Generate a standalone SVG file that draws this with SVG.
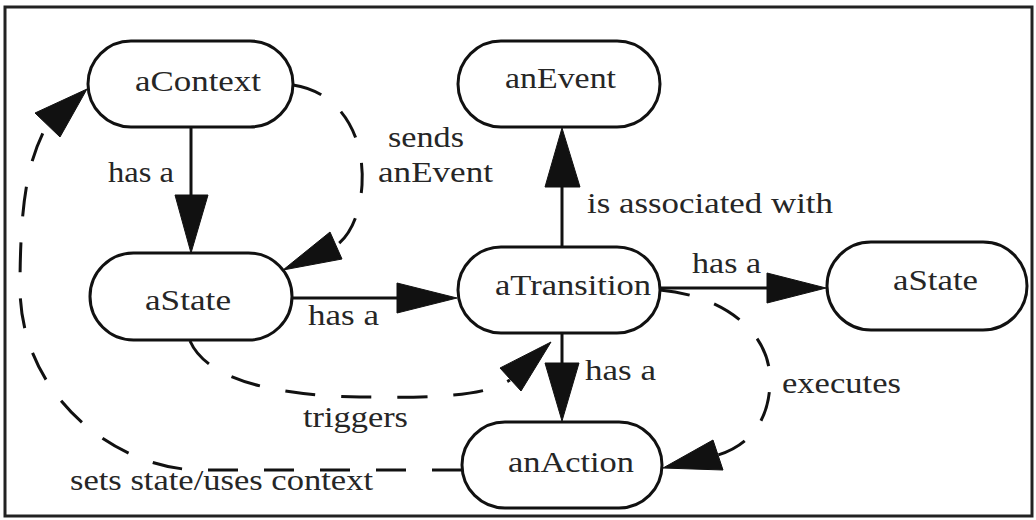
<svg xmlns="http://www.w3.org/2000/svg" width="1036" height="520" viewBox="0 0 1036 520">
<rect x="5" y="7" width="1027" height="509" fill="#fff" stroke="#222" stroke-width="3"/>
<g id="connectors" stroke="#111" stroke-width="3">
  <line fill="none" x1="191" y1="127" x2="191" y2="196"/>
  <polygon fill="#111" stroke-width="1" points="175,195 208,195 191,253"/>
  <line fill="none" x1="292" y1="298" x2="398" y2="298"/>
  <polygon fill="#111" stroke-width="1" points="397,283 397,313 457,298"/>
  <line fill="none" x1="562" y1="247" x2="562" y2="186"/>
  <polygon fill="#111" stroke-width="1" points="545,187 580,187 562,128"/>
  <line fill="none" x1="660" y1="288" x2="768" y2="288"/>
  <polygon fill="#111" stroke-width="1" points="767,273 767,303 826,288"/>
  <line fill="none" x1="562" y1="333" x2="562" y2="364"/>
  <polygon fill="#111" stroke-width="1" points="545,363 579,363 562,421"/>
  <path fill="none" stroke-dasharray="30 26" d="M293,85 C340,92 365,135 362,185 C360,215 350,235 337,245"/>
  <polygon fill="#111" stroke-width="1" points="330,232 342,259 283,270"/>
  <path fill="none" stroke-dasharray="30 26" d="M190,341 C205,375 260,395 360,397 C440,398 485,396 510,380"/>
  <polygon fill="#111" stroke-width="1" points="500,368 521,391 551,342"/>
  <path fill="none" stroke-dasharray="30 26" d="M660,290 C720,295 770,330 770,380 C770,420 750,445 718,455"/>
  <polygon fill="#111" stroke-width="1" points="713,440 723,470 663,468"/>
  <path fill="none" stroke-dasharray="30 26" d="M462,470 L200,470 C120,470 22,400 20,290 C20,200 28,160 47,125"/>
  <polygon fill="#111" stroke-width="1" points="35,113 60,137 87,89"/>
</g>
<g id="labels" font-family="Liberation Serif" font-size="29" fill="#262626">
  <text x="108" y="182" textLength="66" lengthAdjust="spacingAndGlyphs">has a</text>
  <text x="308" y="325" textLength="71" lengthAdjust="spacingAndGlyphs">has a</text>
  <text x="587" y="213" textLength="246" lengthAdjust="spacingAndGlyphs">is associated with</text>
  <text x="692" y="273" textLength="69" lengthAdjust="spacingAndGlyphs">has a</text>
  <text x="585" y="380" textLength="71" lengthAdjust="spacingAndGlyphs">has a</text>
  <text x="388" y="147" textLength="76" lengthAdjust="spacingAndGlyphs">sends</text>
  <text x="378" y="182" textLength="115" lengthAdjust="spacingAndGlyphs">anEvent</text>
  <text x="303" y="427" textLength="105" lengthAdjust="spacingAndGlyphs">triggers</text>
  <text x="782" y="393" textLength="119" lengthAdjust="spacingAndGlyphs">executes</text>
  <text x="70" y="490" textLength="303" lengthAdjust="spacingAndGlyphs">sets state/uses context</text>
</g>
<g id="aContext">
  <rect x="88" y="41" width="205" height="86" rx="43" fill="#fff" stroke="#111" stroke-width="3"/>
  <text font-family="Liberation Serif" font-size="29" fill="#262626" x="135" y="91" textLength="126" lengthAdjust="spacingAndGlyphs">aContext</text>
</g>
<g id="anEvent">
  <rect x="458" y="41" width="202" height="86" rx="43" fill="#fff" stroke="#111" stroke-width="3"/>
  <text font-family="Liberation Serif" font-size="29" fill="#262626" x="505" y="88" textLength="111" lengthAdjust="spacingAndGlyphs">anEvent</text>
</g>
<g id="aState1">
  <rect x="90" y="253" width="202" height="87" rx="43.5" fill="#fff" stroke="#111" stroke-width="3"/>
  <text font-family="Liberation Serif" font-size="29" fill="#262626" x="145" y="310" textLength="86" lengthAdjust="spacingAndGlyphs">aState</text>
</g>
<g id="aTransition">
  <rect x="458" y="247" width="202" height="86" rx="43" fill="#fff" stroke="#111" stroke-width="3"/>
  <text font-family="Liberation Serif" font-size="29" fill="#262626" x="495" y="295" textLength="156" lengthAdjust="spacingAndGlyphs">aTransition</text>
</g>
<g id="aState2">
  <rect x="827" y="242" width="200" height="88" rx="44" fill="#fff" stroke="#111" stroke-width="3"/>
  <text font-family="Liberation Serif" font-size="29" fill="#262626" x="893" y="290" textLength="85" lengthAdjust="spacingAndGlyphs">aState</text>
</g>
<g id="anAction">
  <rect x="462" y="422" width="200" height="86" rx="43" fill="#fff" stroke="#111" stroke-width="3"/>
  <text font-family="Liberation Serif" font-size="29" fill="#262626" x="508" y="472" textLength="126" lengthAdjust="spacingAndGlyphs">anAction</text>
</g>
</svg>
